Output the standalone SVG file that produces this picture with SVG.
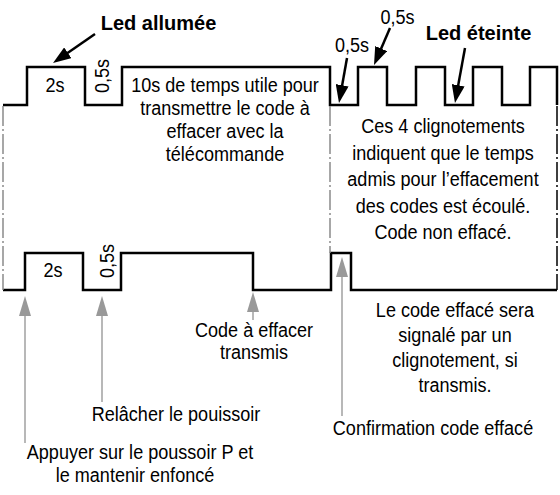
<svg xmlns="http://www.w3.org/2000/svg" width="560" height="495" viewBox="0 0 560 495">
<style>
.t{font-family:"Liberation Sans",Arial,sans-serif;font-size:21px;text-anchor:middle;fill:#000}
.b{font-family:"Liberation Sans",Arial,sans-serif;font-size:20px;font-weight:bold;text-anchor:middle;fill:#000}
.wave{fill:none;stroke:#000;stroke-width:2.5;stroke-linejoin:miter}
.dd{fill:none;stroke:#8a8a8a;stroke-width:1.5;stroke-dasharray:20 3 2 3}
.ddk{fill:none;stroke:#000;stroke-width:1.5;stroke-dasharray:20 3 2 3}
.ak{fill:none;stroke:#000;stroke-width:2.5;marker-end:url(#hk)}
.ag{fill:none;stroke:#a0a0a0;stroke-width:1.5;marker-end:url(#hg)}
</style>
<defs>
<marker id="hk" markerUnits="userSpaceOnUse" markerWidth="18" markerHeight="13" refX="10" refY="6.5" orient="auto">
<path d="M0,0 L18,6.5 L0,13 z" fill="#000"/>
</marker>
<marker id="hg" markerUnits="userSpaceOnUse" markerWidth="20" markerHeight="12" refX="12" refY="6" orient="auto">
<path d="M0,0 L20,6 L0,12 z" fill="#999"/>
</marker>
</defs>
<rect width="560" height="495" fill="#fff"/>

<g id="waveforms">
<path class="wave" d="M3,105 H27 V67 H85 V105 H122 V67 H330 V105 H358 V67 H387 V105 H416 V67 H445 V105 H473 V67 H502 V105 H530 V67 H557 V105"/>
<path class="wave" d="M3,290 H25 V253 H83 V290 H121 V253 H253 V290 H331 V253 H351 V290 H557"/>
</g>

<g id="guides">
<line class="dd" x1="3" y1="106" x2="3" y2="290"/>
<line class="dd" x1="330" y1="106" x2="330" y2="253"/>
<line class="ddk" x1="557" y1="106" x2="557" y2="290"/>
</g>

<g id="connectors">
<line class="ak" x1="95" y1="34" x2="59.6" y2="58.5"/>
<line class="ak" x1="347" y1="58" x2="340.4" y2="95.1"/>
<line class="ak" x1="390" y1="28" x2="377.2" y2="57.7"/>
<line class="ak" x1="465" y1="48" x2="456.4" y2="95.1"/>
<line class="ag" x1="25" y1="443" x2="25" y2="304"/>
<line class="ag" x1="102" y1="402" x2="102" y2="304"/>
<line class="ag" x1="253" y1="320" x2="253" y2="300"/>
<line class="ag" x1="342" y1="416" x2="342" y2="265"/>
</g>

<g id="label-led-allumee"><text class="b" x="158.5" y="30">Led allumée</text></g>
<g id="label-led-eteinte"><text class="b" x="478.5" y="40">Led éteinte</text></g>
<g id="label-05s-a"><text class="t" transform="matrix(0.86 0 0 1 352 52)">0,5s</text></g>
<g id="label-05s-b"><text class="t" transform="matrix(0.86 0 0 1 397.5 24)">0,5s</text></g>

<g id="top-2s"><text class="t" transform="matrix(0.86 0 0 1 55 92)">2s</text></g>
<g id="top-05s"><text class="t" transform="matrix(0 -0.86 1 0 109 76)">0,5s</text></g>
<g id="bottom-2s"><text class="t" transform="matrix(0.86 0 0 1 53 277)">2s</text></g>
<g id="bottom-05s"><text class="t" transform="matrix(0 -0.86 1 0 114 261)">0,5s</text></g>

<g id="text-10s">
<text class="t" transform="matrix(0.86 0 0 1 225 92)">10s de temps utile pour</text>
<text class="t" transform="matrix(0.86 0 0 1 225 115)">transmettre le code à</text>
<text class="t" transform="matrix(0.86 0 0 1 225 138)">effacer avec la</text>
<text class="t" transform="matrix(0.86 0 0 1 225 161)">télécommande</text>
</g>

<g id="text-4-clignotements">
<text class="t" transform="matrix(0.86 0 0 1 443 133)">Ces 4 clignotements</text>
<text class="t" transform="matrix(0.86 0 0 1 443 159.5)">indiquent que le temps</text>
<text class="t" transform="matrix(0.86 0 0 1 443 186)">admis pour l’effacement</text>
<text class="t" transform="matrix(0.86 0 0 1 443 212.5)">des codes est écoulé.</text>
<text class="t" transform="matrix(0.86 0 0 1 443 239)">Code non effacé.</text>
</g>

<g id="text-code-transmis">
<text class="t" transform="matrix(0.86 0 0 1 254 337)">Code à effacer</text>
<text class="t" transform="matrix(0.86 0 0 1 254 359)">transmis</text>
</g>

<g id="text-code-efface">
<text class="t" transform="matrix(0.86 0 0 1 455 317)">Le code effacé sera</text>
<text class="t" transform="matrix(0.86 0 0 1 455 342)">signalé par un</text>
<text class="t" transform="matrix(0.86 0 0 1 455 367)">clignotement, si</text>
<text class="t" transform="matrix(0.86 0 0 1 455 392)">transmis.</text>
</g>

<g id="text-relacher"><text class="t" transform="matrix(0.86 0 0 1 176 421)">Relâcher le pouissoir</text></g>
<g id="text-confirmation"><text class="t" transform="matrix(0.86 0 0 1 433 435)">Confirmation code effacé</text></g>
<g id="text-appuyer">
<text class="t" transform="matrix(0.86 0 0 1 140 459)">Appuyer sur le poussoir P et</text>
<text class="t" transform="matrix(0.86 0 0 1 135 482)">le mantenir enfoncé</text>
</g>
</svg>
